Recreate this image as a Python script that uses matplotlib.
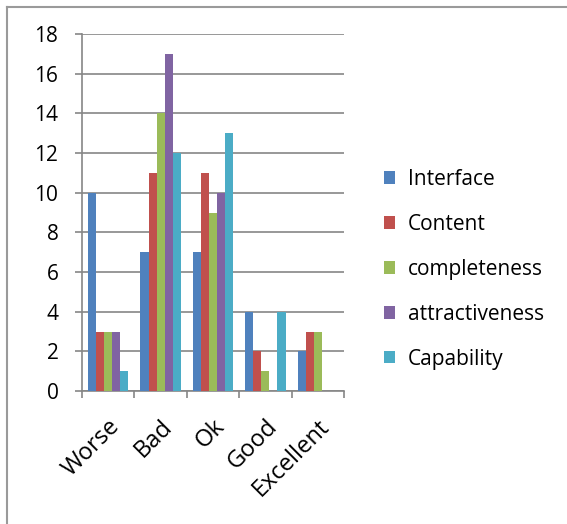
import matplotlib
matplotlib.use("Agg")
import matplotlib.pyplot as plt
import numpy as np
from matplotlib.lines import Line2D
from matplotlib.patches import Patch

categories = ["Worse", "Bad", "Ok", "Good", "Excellent"]
series_names = ["Interface", "Content", "completeness", "attractiveness", "Capability"]
interface = [10, 7, 7, 4, 2]
content = [3, 11, 11, 2, 3]
completeness = [3, 14, 9, 1, 3]
attractiveness = [3, 17, 10, 0, 0]
capability = [1, 12, 13, 4, 0]
y_ticks = [0, 2, 4, 6, 8, 10, 12, 14, 16, 18]

colors = ["#4F81BD", "#C0504D", "#9BBB59", "#8064A2", "#4BACC6"]
series = [interface, content, completeness, attractiveness, capability]

plt.rcParams["font.family"] = ["Open Sans", "DejaVu Sans"]

W, H = 567, 524
fig = plt.figure(figsize=(W / 100, H / 100), dpi=100)

# outer chart border (left and top edges)
fig.add_artist(Line2D([7 / W, 7 / W], [0, 1 - 7 / H], transform=fig.transFigure,
                      color="#9a9a9a", lw=1.5))
fig.add_artist(Line2D([7 / W, 1], [1 - 7 / H, 1 - 7 / H], transform=fig.transFigure,
                      color="#9a9a9a", lw=1.5))

left, right, top, bottom = 82, 344, 34, 391
ax = fig.add_axes([left / W, 1 - bottom / H, (right - left) / W, (bottom - top) / H])

n = len(series)
gap = 1.5
bw = 1.0 / (n + gap)
x = np.arange(len(categories))
for i, (vals, c) in enumerate(zip(series, colors)):
    offs = -0.5 + gap / 2 * bw + (i + 0.5) * bw
    ax.bar(x + offs, vals, width=bw, color=c, edgecolor="none", zorder=3)

ax.set_xlim(-0.5, len(categories) - 0.5)
ax.set_ylim(0, 18)
ax.set_yticks(y_ticks)
ax.set_yticklabels([str(t) for t in y_ticks], fontsize=15)
ax.yaxis.grid(True, color="#868686", lw=1.2, zorder=0)

ax.set_xticks(np.arange(len(categories) + 1) - 0.5, minor=False)
ax.set_xticklabels([])
ax.set_xticks(x + 0.0, minor=True)
ax.set_xticklabels(categories, minor=True, rotation=45, ha="right",
                   rotation_mode="anchor", fontsize=17)
ax.tick_params(axis="x", which="major", length=5, color="#868686", width=1.2)
ax.tick_params(axis="x", which="minor", length=0, pad=17)
ax.tick_params(axis="y", length=5, color="#868686", width=1.2, pad=12)

for s in ["top", "right"]:
    ax.spines[s].set_visible(False)
for s in ["left", "bottom"]:
    ax.spines[s].set_color("#868686")
    ax.spines[s].set_linewidth(1.2)

handles = [Patch(facecolor=c, edgecolor="none") for c in colors]
fig.legend(handles, series_names, loc="upper left",
           bbox_to_anchor=(365 / W, 1 - 150 / H), frameon=False, fontsize=15,
           handlelength=0.55, handleheight=0.55, handletextpad=0.6,
           labelspacing=1.15)

fig.savefig("out.png", dpi=100)
